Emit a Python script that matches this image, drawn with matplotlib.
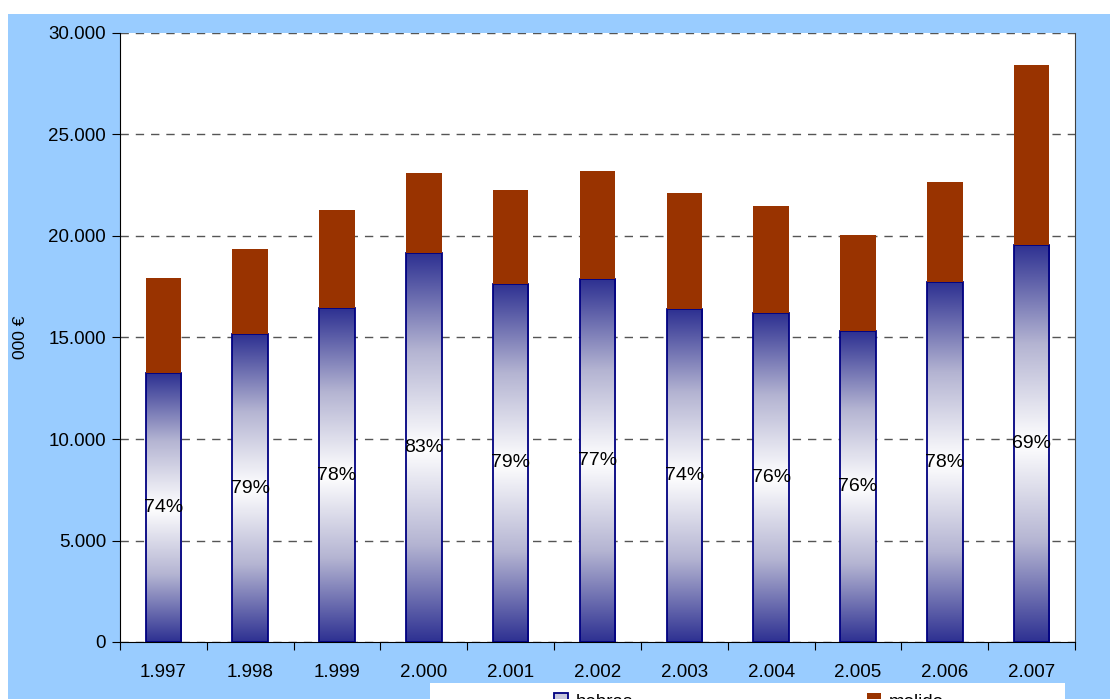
import matplotlib
matplotlib.use("Agg")
import matplotlib.pyplot as plt
import numpy as np
from matplotlib.colors import LinearSegmentedColormap
from matplotlib.patches import Rectangle

plt.rcParams["font.family"] = ["Liberation Sans", "DejaVu Sans"]

# ------------------------------------------------------------------
# Data (thousand euro)
# ------------------------------------------------------------------
years = ["1.997", "1.998", "1.999", "2.000", "2.001", "2.002",
         "2.003", "2.004", "2.005", "2.006", "2.007"]
hebras = [13250, 15170, 16450, 19160, 17640, 17880,
          16400, 16200, 15300, 17730, 19560]
total = [17950, 19360, 21280, 23100, 22270, 23200,
         22120, 21480, 20050, 22660, 28420]
molido = [t - h for t, h in zip(total, hebras)]
pct_labels = ["74%", "79%", "78%", "83%", "79%", "77%",
              "74%", "76%", "76%", "78%", "69%"]

W, H = 1110, 699
fig = plt.figure(figsize=(W / 100, H / 100), dpi=100, facecolor="white")

# light-blue chart area background
fig.patches.append(Rectangle((8 / W, 0), (W - 8) / W, (H - 14) / H,
                             transform=fig.transFigure, facecolor="#99ccff",
                             edgecolor="none", zorder=-10))
# legend box at the bottom (partly cut by figure edge)
fig.patches.append(Rectangle((430 / W, 0), (1065 - 430) / W, (H - 683) / H,
                             transform=fig.transFigure, facecolor="white",
                             edgecolor="none", zorder=-5))

ax = fig.add_axes([120 / W, 1 - 642 / H, (1075 - 120) / W, (642 - 33) / H])
ax.set_facecolor("white")

x = np.arange(len(years))
bw = 0.41
bars_h = ax.bar(x, hebras, width=bw, color="none", edgecolor="#000080",
                linewidth=1.3, zorder=3, label="hebras")
bars_m = ax.bar(x, molido, width=bw, bottom=hebras, color="#993300",
                edgecolor="none", zorder=3, label="molido")

# vertical gradient dark blue -> white -> dark blue inside each hebras bar
grad = LinearSegmentedColormap.from_list(
    "band", ["#2e3192", "#b4b4d2", "#ffffff", "#b4b4d2", "#2e3192"])
g = np.linspace(0, 1, 256).reshape(-1, 1)
for b in bars_h:
    x0, y0 = b.get_x(), b.get_y()
    im = ax.imshow(g, cmap=grad, aspect="auto", zorder=2.5,
                   extent=(x0, x0 + b.get_width(), y0, y0 + b.get_height()),
                   interpolation="bilinear")
    im.set_clip_path(b)

for xi, h, lab in zip(x, hebras, pct_labels):
    ax.text(xi, h / 2, lab, ha="center", va="center", fontsize=14,
            color="black", zorder=5)

ax.set_xlim(-0.5, len(years) - 0.5)
ax.set_ylim(0, 30000)
ax.set_yticks(np.arange(0, 30001, 5000))
ax.set_yticklabels([f"{v:,}".replace(",", ".") for v in range(0, 30001, 5000)],
                   fontsize=13.5)
ax.yaxis.grid(True, linestyle=(0, (6, 5)), color="#555555", linewidth=1, zorder=1)
ax.set_axisbelow(True)

ax.set_xticks(np.arange(-0.5, len(years), 1.0))
ax.set_xticklabels([])
ax.set_xticks(x, minor=True)
ax.set_xticklabels(years, minor=True, fontsize=13.5)
ax.tick_params(axis="x", which="major", length=6, direction="out", color="black")
ax.tick_params(axis="x", which="minor", length=0, pad=16)
ax.tick_params(axis="y", length=6, direction="out", pad=4)

ax.spines["top"].set_visible(False)
ax.spines["right"].set_color("#404040")
for s in ("left", "bottom"):
    ax.spines[s].set_color("black")

ax.set_ylabel("000 €", fontsize=12.5)
ax.yaxis.set_label_coords(-92 / (1075 - 120), 0.5)

leg = fig.legend(handles=[bars_h, bars_m], labels=["hebras", "molido"],
                 loc="upper center", bbox_to_anchor=(749 / W, 1 - 682 / H),
                 ncol=2, frameon=False, fontsize=13.5, handlelength=0.75,
                 handleheight=0.75, handletextpad=0.4, columnspacing=12.5,
                 borderpad=0.1)
leg.legend_handles[0].set_facecolor("#c8c8dc")

fig.savefig("out.png", dpi=100, facecolor="white")
